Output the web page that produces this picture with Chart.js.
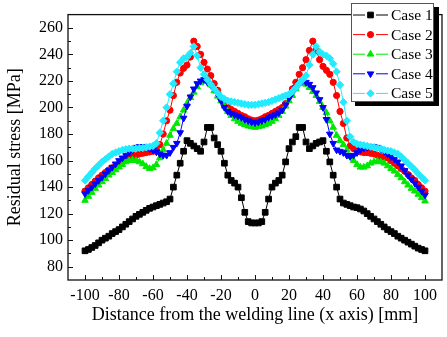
<!DOCTYPE html>
<html>
<head>
<meta charset="utf-8">
<script src="https://cdn.jsdelivr.net/npm/chart.js@4.4.0/dist/chart.umd.min.js"></script>
<style>
  html, body { margin: 0; padding: 0; background: #fff; }
</style>
</head>
<body>
<canvas id="chart" width="447" height="337"></canvas>
<script>
// positions along the plate (mm)
var xPos = [-100,-98,-96,-94,-92,-90,-88,-86,-84,-82,
            -80,-78,-76,-74,-72,-70,-68,-66,-64,-62,
            -60,-58,-56,-54,-52,-50,-48,-46,-44,-42,
            -40,-38,-36,-34,-32,-30,-28,-26,-24,-22,
            -20,-18,-16,-14,-12,-10,-8,-6,-4,-2,
            0,
            2,4,6,8,10,12,14,16,18,20,
            22,24,26,28,30,32,34,36,38,40,
            42,44,46,48,50,52,54,56,58,60,
            62,64,66,68,70,72,74,76,78,80,
            82,84,86,88,90,92,94,96,98,100];

// residual stress (MPa)
var case1 = [92,93,94.5,96,98,100,101.5,103,105,106.5,
             108,110,112,114,116,118,119.5,121,122.5,124,
             125,126,127,128,129,131,140,149,158,167,
             175,173,171,169,167,174,185,185,177,172,
             167,158,149,145,143,140,132,121,114,113,
             113,
             113,114,121,131,140,143,145,149,159,169,
             174,178,185,185,174,169,171,173,174,175,
             167,159,149,140,131,128,127,126,125,124.5,
             123.5,122,120,118,116,114,112,110,108,106.5,
             105,103,101.5,100,98.5,97,95.5,94,93,92];
var case2 = [137,139.5,142,144.5,147,149,151,153,154.5,156,
             157.5,159,160.5,162,163,164,165,165.5,166,166.5,
             167,168,172,180,190,198,209,219,226,229.5,
             232,238,250,246,240,234,229,224,218,213,
             207,203,200,198.5,197,195.5,194,193,191.5,190.5,
             190,
             190.5,191.5,193,194,195.5,197,198.5,200,203,208,
             214,219,225,230,236,243,250,243,236,231,
             228,225,219,209,197,188,177,171,169,167.5,
             166.5,166,166,165.5,165,164,163,162.5,162,160,
             158,156,154,152,149.5,147,145,142,139.5,137];
var case3 = [130,133,136,139,141.5,144,146.5,149,151,153,
             155,157,159,160,160.5,160,159,157.5,155.5,154,
             154.5,157,162,168,173,179,184,188,193,198,
             203,207.5,211.5,215.5,218.5,220.5,220,217,212.5,208.5,
             205,201,197,194,191.5,189.5,188,187,186,185.5,
             185,
             185.5,186,187,188,189.5,191.5,194,197,201,205,
             209,214,218,219.5,217.5,215,212,209,204.5,200,
             196,190,185,179,175,172,168,163,160,157,
             155,155,156,158,159,159.5,159,158,156,154,
             152,149.5,147,144,141.5,139,137,134.5,132,129.5];
var case4 = [135,137.5,140,142.5,145,147.5,150,152.5,155,157.5,
             160,162,164,166,168,170,170.5,170.5,170,169,
             168,166.5,165,164,164,166,170,173,181,192,
             201,208,214,218,220,221,219,217,213.5,210,
             205,200,197,195.5,194.5,193.5,192.5,191,190,189,
             188.5,
             189,190,191,192.5,193.5,194.5,196,198,202,207,
             211,215,218,220,219,217.5,215,211,206,200,
             191,180,173,168,167,166,164,163,164,166,
             168,169.5,170,170.5,170.5,170,168.5,167,165,163,
             161,159,156,152.5,149,146,143,140,137,134];
var case5 = [145,148,151,154,156.5,159,161,163,165,166,
             167,168,168.5,169,169,169,169.5,169.5,170,170.5,
             171,173,181,190,200,210,218,227,234,237,
             238,241,246,239,230,225,221,217.5,214,211,
             208,206.5,205,204.5,204,203.5,203,202.5,202,202,
             202,
             202.5,203,203.5,204,205,206,207,208,209,210,
             212,215,218,221,224,232,240,246,242,240,
             239,237,233,227,217,204,190,178,174,172.5,
             172,171.5,171,170.5,170,169.5,169,168,167.5,167,
             166,165,163,160.5,158,155.5,153,150,147.5,145];

var seriesNames = ['Case 1', 'Case 2', 'Case 3', 'Case 4', 'Case 5'];
var seriesData = [case1, case2, case3, case4, case5];
var xTicks = [-100, -80, -60, -40, -20, 0, 20, 40, 60, 80, 100];
var yTicks = [80, 100, 120, 140, 160, 180, 200, 220, 240, 260];

// marker styles
var colors = ['#000000', '#ff0000', '#00e800', '#0000ff', '#22eaff'];
var shapes = ['rect', 'circle', 'triangle', 'triangle', 'rectRot'];
var turns = [0, 0, 0, 180, 0];
var sizes = [4.0, 3.1, 3.8, 3.8, 3.7];

var serif = 'Liberation Serif, "Times New Roman", serif';

function toPoints(vals) {
    return vals.map(function (v, i) { return { x: xPos[i], y: v }; });
}

// frame, inward ticks and the boxed legend
var decorPlugin = {
    id: 'decor',
    afterDraw: function (chart) {
        var ctx = chart.ctx;
        var a = chart.chartArea;
        var sx = chart.scales.x, sy = chart.scales.y;
        ctx.save();
        ctx.strokeStyle = '#111';
        ctx.lineWidth = 1.3;
        ctx.strokeRect(a.left, a.top, a.right - a.left, a.bottom - a.top);

        ctx.lineWidth = 1;
        ctx.beginPath();
        for (var i = 0; i < xTicks.length; i++) {
            var px = Math.round(sx.getPixelForValue(xTicks[i])) + 0.5;
            ctx.moveTo(px, a.bottom); ctx.lineTo(px, a.bottom - 5);
            if (i < xTicks.length - 1) {
                var mx = Math.round(sx.getPixelForValue((xTicks[i] + xTicks[i + 1]) / 2)) + 0.5;
                ctx.moveTo(mx, a.bottom); ctx.lineTo(mx, a.bottom - 3);
            }
        }
        for (var j = 0; j < yTicks.length; j++) {
            var py = Math.round(sy.getPixelForValue(yTicks[j])) + 0.5;
            ctx.moveTo(a.left, py); ctx.lineTo(a.left + 5, py);
            if (j < yTicks.length - 1) {
                var my = Math.round(sy.getPixelForValue((yTicks[j] + yTicks[j + 1]) / 2)) + 0.5;
                ctx.moveTo(a.left, my); ctx.lineTo(a.left + 3, my);
            }
        }
        ctx.stroke();

        // legend box with drop shadow
        var bx = 351, by = 3, bw = 83, bh = 98;
        ctx.fillStyle = '#000';
        ctx.fillRect(bx + 4, by + 4, bw + 1, bh + 1);
        ctx.fillStyle = '#fff';
        ctx.fillRect(bx, by, bw, bh);
        ctx.strokeStyle = '#555';
        ctx.lineWidth = 1;
        ctx.strokeRect(bx + 0.5, by + 0.5, bw - 1, bh);

        ctx.font = '15.5px ' + serif;
        ctx.textBaseline = 'middle';
        ctx.textAlign = 'left';
        for (var k = 0; k < seriesNames.length; k++) {
            var ly = 15 + k * 19.6;
            ctx.strokeStyle = colors[k];
            ctx.fillStyle = colors[k];
            ctx.beginPath();
            ctx.moveTo(353, ly); ctx.lineTo(365, ly);
            ctx.moveTo(376, ly); ctx.lineTo(388, ly);
            ctx.stroke();
            Chart.helpers.drawPoint(ctx, {
                pointStyle: shapes[k], rotation: turns[k], radius: sizes[k], borderWidth: 1
            }, 370.5, ly);
            ctx.fillStyle = '#000';
            ctx.fillText(seriesNames[k], 391, ly + 1);
        }
        ctx.restore();
    }
};

var datasets = seriesData.map(function (vals, i) {
    return {
        label: seriesNames[i],
        data: toPoints(vals),
        borderColor: colors[i],
        backgroundColor: colors[i],
        borderWidth: 1,
        pointStyle: shapes[i],
        rotation: turns[i],
        pointRadius: sizes[i],
        pointBorderWidth: 1,
        pointBorderColor: colors[i],
        pointBackgroundColor: colors[i],
        tension: 0,
        order: 5 - i
    };
});

new Chart(document.getElementById('chart').getContext('2d'), {
    type: 'line',
    data: { datasets: datasets },
    options: {
        responsive: false,
        animation: false,
        layout: { padding: { left: 0, right: 4, top: 3, bottom: 0 } },
        plugins: { legend: { display: false }, tooltip: { enabled: false } },
        scales: {
            x: {
                type: 'linear',
                min: -110,
                max: 110,
                afterBuildTicks: function (s) { s.ticks = xTicks.map(function (v) { return { value: v }; }); },
                afterFit: function (s) { s.height = 57; },
                grid: { display: false, drawTicks: false, tickLength: 0 },
                border: { display: false },
                ticks: { color: '#000', padding: 6, maxRotation: 0, font: { family: serif, size: 16 } },
                title: {
                    display: true,
                    text: 'Distance from the welding line (x axis) [mm]',
                    color: '#000',
                    padding: { top: 0, bottom: 11 },
                    font: { family: serif, size: 18 }
                }
            },
            y: {
                min: 70,
                max: 270,
                afterBuildTicks: function (s) { s.ticks = yTicks.map(function (v) { return { value: v }; }); },
                afterFit: function (s) { s.width = 68; },
                grid: { display: false, drawTicks: false, tickLength: 0 },
                border: { display: false },
                ticks: { color: '#000', padding: 5, font: { family: serif, size: 16 } },
                title: {
                    display: true,
                    text: 'Residual stress [MPa]',
                    color: '#000',
                    padding: { top: 4, bottom: 0 },
                    font: { family: serif, size: 18 }
                }
            }
        }
    },
    plugins: [decorPlugin]
});
</script>
</body>
</html>
